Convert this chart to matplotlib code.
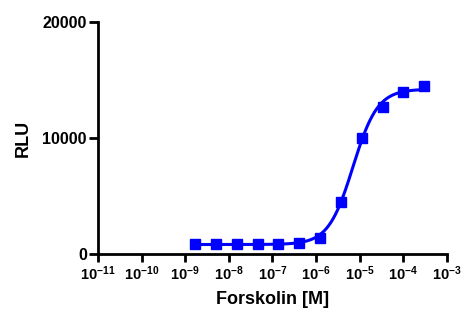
import numpy as np
import matplotlib
matplotlib.use('Agg')
import matplotlib.pyplot as plt
from matplotlib.ticker import LogLocator, NullFormatter, FixedLocator

plt.rcParams['font.family'] = 'Liberation Sans'
plt.rcParams['font.weight'] = 'bold'
plt.rcParams['mathtext.fontset'] = 'custom'
plt.rcParams['mathtext.rm'] = 'Liberation Sans:bold'
plt.rcParams['mathtext.bf'] = 'Liberation Sans:bold'
plt.rcParams['mathtext.it'] = 'Liberation Sans:bold'
plt.rcParams['mathtext.default'] = 'rm'

# forskolin dose response (3-fold dilutions)
conc = [1.7e-9, 5.1e-9, 1.52e-8, 4.57e-8, 1.37e-7, 4.1e-7,
        1.23e-6, 3.7e-6, 1.11e-5, 3.33e-5, 1.0e-4, 3.0e-4]
rlu = [870, 880, 870, 860, 880, 950, 1400, 4500, 10000, 12700, 13950, 14450]

xTicks = [1e-11, 1e-10, 1e-9, 1e-8, 1e-7, 1e-6, 1e-5, 1e-4, 1e-3]
xTickLabels = ['$10^{-11}$', '$10^{-10}$', '$10^{-9}$', '$10^{-8}$', '$10^{-7}$',
               '$10^{-6}$', '$10^{-5}$', '$10^{-4}$', '$10^{-3}$']
yTicks = [0, 10000, 20000]

# 4PL fit: grid over logEC50 / hill, linear lstsq for bottom & top
logX = np.log10(conc)
yArr = np.array(rlu, dtype=float)
best = None
for logEC in np.arange(-6.0, -4.0, 0.005):
    for hill in np.arange(0.5, 2.5, 0.01):
        f = 1.0 / (1.0 + 10 ** ((logEC - logX) * hill))
        A = np.column_stack([1 - f, f])
        coef, res, _, _ = np.linalg.lstsq(A, yArr, rcond=None)
        sse = np.sum((A @ coef - yArr) ** 2)
        if best is None or sse < best[0]:
            best = (sse, logEC, hill, coef)
_, logEC, hill, (bottom, top) = best

xFit = np.linspace(logX.min(), logX.max(), 300)
yFit = bottom + (top - bottom) / (1.0 + 10 ** ((logEC - xFit) * hill))

fig = plt.figure(figsize=(4.61, 3.09), dpi=100)
ax = fig.add_axes([0.2126, 0.178, 0.757, 0.751])

ax.plot(10 ** xFit, yFit, color='#0000FF', lw=2.2, zorder=3)
ax.plot(conc, rlu, 's', color='#0000FF', ms=6.5, zorder=4, clip_on=False)

ax.set_xscale('log')
ax.set_xlim(1e-11, 1e-3)
ax.set_ylim(0, 20000)

ax.xaxis.set_major_locator(FixedLocator(xTicks))
ax.set_xticklabels(xTickLabels)
ax.xaxis.set_minor_locator(LogLocator(base=10, subs=np.arange(2, 10)))
ax.xaxis.set_minor_formatter(NullFormatter())
ax.set_yticks(yTicks)
ax.set_yticklabels([str(v) for v in yTicks])

for side in ['top', 'right']:
    ax.spines[side].set_visible(False)
for side in ['left', 'bottom']:
    ax.spines[side].set_linewidth(2.0)

ax.tick_params(axis='both', which='major', width=2.0, length=6, pad=1.5)
ax.tick_params(axis='y', which='major', labelsize=11.5, length=6.5)
ax.tick_params(axis='x', which='major', labelsize=10.5)
ax.tick_params(axis='x', which='minor', width=1.6, length=3.5)

ax.set_xlabel('Forskolin [M]', fontsize=13, fontweight='bold', labelpad=5.5)
ax.set_ylabel('RLU', fontsize=13, fontweight='bold', labelpad=8)

plt.savefig('out.png', dpi=100)
